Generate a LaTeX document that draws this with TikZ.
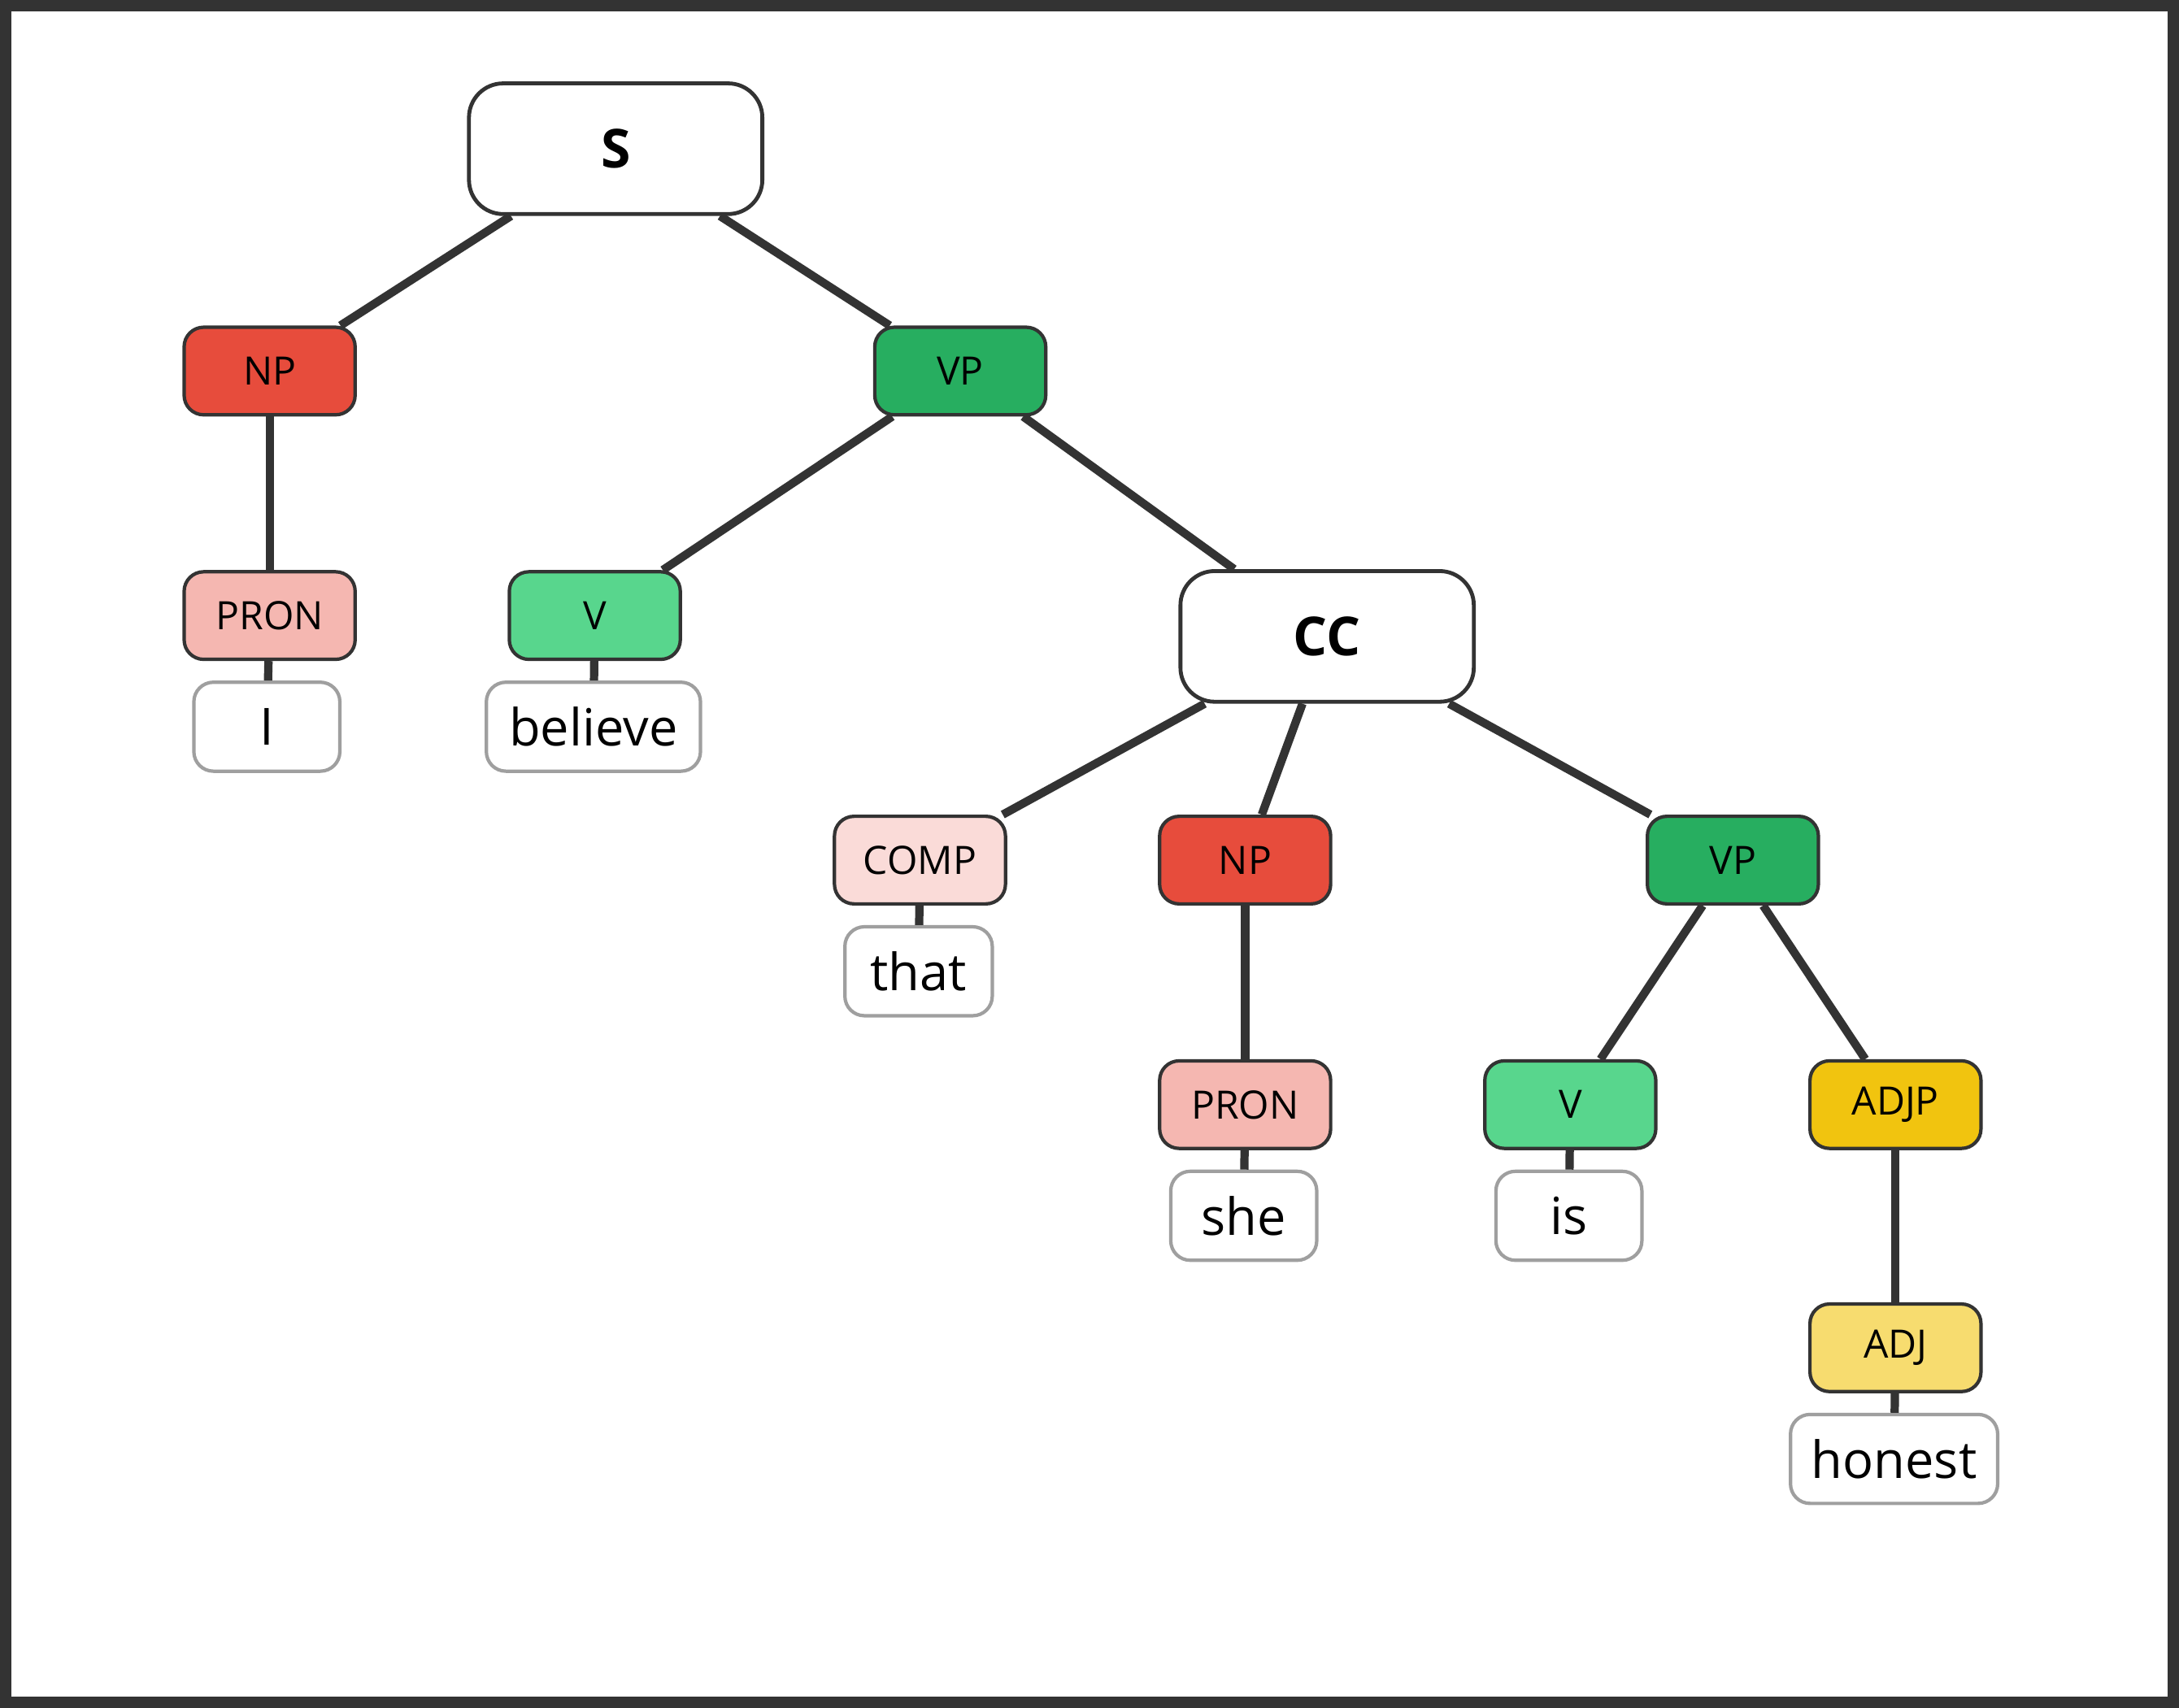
\documentclass[tikz,border=0pt]{standalone}
\usepackage{fontspec}
\setmainfont{Open Sans}
\usepackage{tikz}
\usetikzlibrary{positioning}
\definecolor{edgec}{HTML}{333333}
\definecolor{npc}{HTML}{E74C3C}
\definecolor{vpc}{HTML}{27AE60}
\definecolor{pronc}{HTML}{F5B7B1}
\definecolor{vc}{HTML}{58D68D}
\definecolor{compc}{HTML}{FADBD8}
\definecolor{adjpc}{HTML}{F1C40F}
\definecolor{adjc}{HTML}{F7DC6F}
\tikzset{
  cat/.style={draw=edgec,line width=0.7pt,rounded corners=4pt,minimum width=1.23cm,minimum height=0.63cm,font=\fontsize{8}{9}\selectfont,inner sep=0pt},
  big/.style={draw=edgec,line width=0.8pt,fill=white,rounded corners=7pt,minimum width=2.11cm,minimum height=0.94cm,font=\fontsize{11}{12}\bfseries,inner sep=0pt},
  word/.style={draw=gray!75,line width=0.7pt,fill=white,rounded corners=4pt,minimum height=0.64cm,font=\fontsize{10.5}{12}\selectfont,inner sep=0pt},
  link/.style={draw=edgec,line width=1.7pt}
}
\begin{document}
\begin{tikzpicture}[x=0.01cm,y=-0.01cm]
\draw[edgec,line width=2.3pt,fill=white] (4,4) rectangle (1564,1225);
\node[big] (s) at (443,107) {S};
\node[cat,fill=npc] (np) at (194,267) {NP};
\node[cat,fill=vpc] (vp) at (691,267) {VP};
\node[cat,fill=pronc] (pron) at (194,443) {PRON};
\node[word,minimum width=1.05cm] (wI) at (192,523) {I};
\node[cat,fill=vc] (v) at (428,443) {V};
\node[word,minimum width=1.54cm] (wbelieve) at (427,523) {believe};
\node[big] (cc) at (955,458) {CC};
\node[cat,fill=compc] (comp) at (662,619) {COMP};
\node[word,minimum width=1.06cm] (wthat) at (661,699) {that};
\node[cat,fill=npc] (np2) at (896,619) {NP};
\node[cat,fill=vpc] (vp2) at (1247,619) {VP};
\node[cat,fill=pronc] (pron2) at (896,795) {PRON};
\node[word,minimum width=1.05cm] (wshe) at (895,875) {she};
\node[cat,fill=vc] (v2) at (1130,795) {V};
\node[word,minimum width=1.05cm] (wis) at (1129,875) {is};
\node[cat,fill=adjpc] (adjp) at (1364,795) {ADJP};
\node[cat,fill=adjc] (adj) at (1364,970) {ADJ};
\node[word,minimum width=1.49cm] (whonest) at (1363,1050) {honest};

\draw[link] (s) -- (np);
\draw[link] (s) -- (vp);
\draw[link] (np) -- (pron);
\draw[link] (pron) -- (wI);
\draw[link] (vp) -- (v);
\draw[link] (vp) -- (cc);
\draw[link] (v) -- (wbelieve);
\draw[link] (cc) -- (comp);
\draw[link] (cc) -- (np2);
\draw[link] (cc) -- (vp2);
\draw[link] (comp) -- (wthat);
\draw[link] (np2) -- (pron2);
\draw[link] (pron2) -- (wshe);
\draw[link] (vp2) -- (v2);
\draw[link] (vp2) -- (adjp);
\draw[link] (v2) -- (wis);
\draw[link] (adjp) -- (adj);
\draw[link] (adj) -- (whonest);
\end{tikzpicture}
\end{document}
